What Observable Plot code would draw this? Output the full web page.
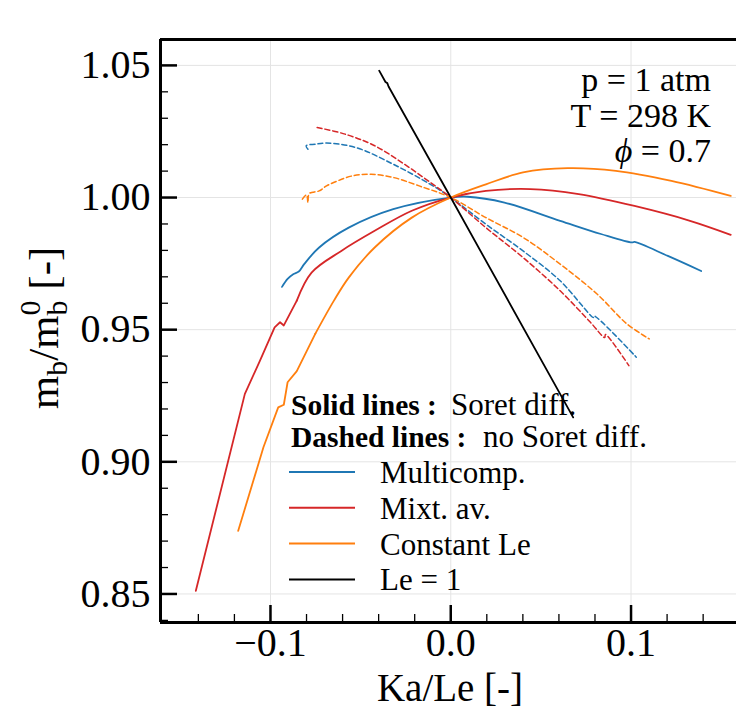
<!DOCTYPE html>
<html><head><meta charset="utf-8">
<script src="https://cdn.jsdelivr.net/npm/d3@7"></script>
<script src="https://cdn.jsdelivr.net/npm/@observablehq/plot@0.6"></script>
<style>body{margin:0;background:#fff}</style>
</head><body><div id="chart"></div>
<script>
// ---- data ----
const multiSolidX = [-0.0936,-0.0905,-0.0874,-0.0843,-0.0813,-0.0730,-0.0566,-0.0319,0,0.0093,0.0298,0.0607,0.0833,0.1005,0.1019,0.1204,0.1389];
const multiSolidY = [0.9662,0.9692,0.9710,0.9720,0.9748,0.9811,0.9886,0.9956,1,1.0003,0.9981,0.9912,0.9862,0.9830,0.9832,0.9779,0.9722];
const mixtSolidX = [-0.1414,-0.1142,-0.1060,-0.0977,-0.0947,-0.0926,-0.0854,-0.0772,-0.0607,-0.0422,-0.0216,0,0.0195,0.0442,0.0710,0.1019,0.1327,0.1553];
const mixtSolidY = [0.8512,0.9257,0.9380,0.9509,0.9528,0.9516,0.9610,0.9716,0.9798,0.9874,0.9950,1,1.0025,1.0032,1.0013,0.9968,0.9912,0.9859];
const constSolidX = [-0.1179,-0.1039,-0.0957,-0.0926,-0.0905,-0.0854,-0.0751,-0.0648,-0.0566,-0.0422,-0.0216,0,0.0195,0.0401,0.0648,0.0916,0.1224,0.1553];
const constSolidY = [0.8739,0.9055,0.9206,0.9216,0.9301,0.9343,0.9485,0.9610,0.9697,0.9811,0.9924,1,1.0050,1.0095,1.0111,1.0101,1.0063,1.0006];
const leOneX = [-0.0397,-0.0362,-0.0352,-0.0345,0,0.0679];
const leOneY = [1.0480,1.0437,1.0433,1.0420,1,0.9168];
const multiDashX = [-0.0792,-0.0802,-0.0751,-0.0689,-0.0525,-0.0319,-0.0113,0,0.0195,0.0401,0.0607,0.0792,0.0795,0.1029];
const multiDashY = [1.0183,1.0196,1.0202,1.0206,1.0189,1.0126,1.0050,1,0.9899,0.9798,0.9685,0.9546,0.9552,0.9396];
const mixtDashX = [-0.0741,-0.0586,-0.0422,-0.0257,-0.0113,0,0.0195,0.0401,0.0607,0.0772,0.0854,0.0858,0.0988];
const mixtDashY = [1.0265,1.0240,1.0196,1.0126,1.0057,1,0.9886,0.9773,0.9647,0.9530,0.9470,0.9482,0.9364];
const constDashX = [-0.0823,-0.0800,-0.0792,-0.0785,-0.0730,-0.0689,-0.0628,-0.0545,-0.0442,-0.0319,-0.0175,0,0.0195,0.0401,0.0607,0.0813,0.0977,0.1101];
const constDashY = [0.9994,1.0010,0.9981,1.0015,1.0025,1.0044,1.0063,1.0082,1.0088,1.0076,1.0044,1,0.9924,0.9849,0.9748,0.9634,0.9522,0.9465];

const xMajor = [-0.1, 0.0, 0.1];
const xMinor = [-0.14,-0.12,-0.08,-0.06,-0.04,-0.02,0.02,0.04,0.06,0.08,0.12,0.14];
const yMajor = [0.85, 0.90, 0.95, 1.00, 1.05];
const yMinor = [0.84,0.86,0.87,0.88,0.89,0.91,0.92,0.93,0.94,0.96,0.97,0.98,0.99,1.01,1.02,1.03,1.04];
const legendNames = ["Multicomp.", "Mixt. av.", "Constant Le", "Le = 1"];
const legendColors = ["#1f77b4", "#d62728", "#ff7f0e", "#000000"];
const conditions = ["p = 1 atm", "T = 298 K", "ϕ = 0.7"];

const BLUE = "#1f77b4", RED = "#d62728", ORANGE = "#ff7f0e";
const pts = (xs, ys) => xs.map((x, i) => ({x, y: ys[i]}));
const redPts = pts(mixtSolidX, mixtSolidY);
const orangePts = pts(constSolidX, constSolidY);

const W = 736, H = 712, ML = 160, MR = 0, MT = 39, MB = 90;
const PW = W - ML - MR, PH = H - MT - MB;
const xDom = [-0.161, 0.1585], yDom = [0.8392, 1.0598];

const smooth = {strokeWidth: 1.8, strokeLinejoin: "round", curve: "catmull-rom"};
const sharp = {strokeWidth: 1.8, strokeLinejoin: "round", curve: "linear"};
const dashed = {strokeWidth: 1.5, strokeDasharray: "5,3", curve: "catmull-rom"};

const svg = Plot.plot({
  width: W, height: H,
  marginLeft: ML, marginRight: MR, marginTop: MT, marginBottom: MB,
  style: {fontFamily: "'Liberation Serif', 'Times New Roman', serif", fontSize: "40px", background: "#fff", color: "#000"},
  x: {domain: xDom, ticks: xMajor, tickSize: 0, tickPadding: 5, tickFormat: d3.format(".1f"), label: null},
  y: {domain: yDom, ticks: yMajor, tickSize: 0, tickPadding: 10, tickFormat: d3.format(".2f"), label: null},
  marks: [
    Plot.ruleX(xMajor, {stroke: "#e4e4e4", strokeWidth: 1}),
    Plot.ruleY(yMajor, {stroke: "#e4e4e4", strokeWidth: 1}),
    Plot.line(pts(multiDashX, multiDashY), {x: "x", y: "y", stroke: BLUE, ...dashed}),
    Plot.line(pts(mixtDashX, mixtDashY), {x: "x", y: "y", stroke: RED, ...dashed}),
    Plot.line(pts(constDashX, constDashY), {x: "x", y: "y", stroke: ORANGE, ...dashed}),
    Plot.line(pts(multiSolidX, multiSolidY), {x: "x", y: "y", stroke: BLUE, ...smooth}),
    Plot.line(redPts.filter(d => d.x <= -0.0854), {x: "x", y: "y", stroke: RED, ...sharp}),
    Plot.line(redPts.filter(d => d.x >= -0.0854), {x: "x", y: "y", stroke: RED, ...smooth}),
    Plot.line(orangePts.filter(d => d.x <= -0.0751), {x: "x", y: "y", stroke: ORANGE, ...sharp}),
    Plot.line(orangePts.filter(d => d.x >= -0.0751), {x: "x", y: "y", stroke: ORANGE, ...smooth}),
    Plot.line(pts(leOneX, leOneY), {x: "x", y: "y", stroke: "#000", strokeWidth: 1.8}),
    // inward ticks
    Plot.ruleX(xMajor, {insetTop: PH - 17, stroke: "#000", strokeWidth: 2.5}),
    Plot.ruleX(xMinor, {insetTop: PH - 8, stroke: "#000", strokeWidth: 1.3}),
    Plot.ruleY(yMajor, {insetRight: PW - 17, stroke: "#000", strokeWidth: 2.5}),
    Plot.ruleY(yMinor, {insetRight: PW - 8, stroke: "#000", strokeWidth: 1.3}),
    // frame (left, top, bottom)
    Plot.ruleX([xDom[0]], {stroke: "#000", strokeWidth: 3}),
    Plot.ruleY([yDom[0]], {stroke: "#000", strokeWidth: 3}),
    Plot.ruleY([yDom[1]], {stroke: "#000", strokeWidth: 3})
  ]
});

const S = d3.select(svg);

// conditions (top right)
const cond = S.append("g").attr("font-size", 34).attr("text-anchor", "end").attr("fill", "#000");
cond.append("text").attr("x", 711).attr("y", 91).text(conditions[0]);
cond.append("text").attr("x", 711).attr("y", 127).text(conditions[1]);
const phi = cond.append("text").attr("x", 711).attr("y", 162);
phi.append("tspan").attr("font-style", "italic").text("ϕ");
phi.append("tspan").text(" = 0.7");

// axis labels
S.append("text").attr("x", 450).attr("y", 701).attr("text-anchor", "middle").attr("font-size", 39).attr("fill", "#000").text("Ka/Le [-]");
const yl = S.append("text").attr("transform", "translate(58,328) rotate(-90)").attr("text-anchor", "middle").attr("font-size", 43).attr("fill", "#000");
yl.append("tspan").text("m");
yl.append("tspan").attr("font-size", 30).attr("dy", 9).text("b");
yl.append("tspan").attr("dy", -9).text("/m");
yl.append("tspan").attr("font-size", 30).attr("dy", 9).text("b");
yl.append("tspan").attr("font-size", 30).attr("dx", -15).attr("dy", -27).text("0");
yl.append("tspan").attr("dy", 18).text(" [-]");

// legend
const lg = S.append("g").attr("fill", "#000").attr("font-size", 31).attr("text-anchor", "start");
const t1 = lg.append("text").attr("x", 291).attr("y", 415);
t1.append("tspan").attr("font-weight", "bold").attr("font-size", 29.5).text("Solid lines :");
t1.append("tspan").attr("x", 451).text("Soret diff.");
const t2 = lg.append("text").attr("x", 291).attr("y", 447);
t2.append("tspan").attr("font-weight", "bold").attr("font-size", 29.5).text("Dashed lines :");
t2.append("tspan").attr("x", 483).text("no Soret diff.");
legendNames.forEach((name, i) => {
  const yy = 472 + i * 35.8;
  lg.append("line").attr("x1", 289).attr("x2", 355).attr("y1", yy).attr("y2", yy)
    .attr("stroke", legendColors[i]).attr("stroke-width", 2);
  lg.append("text").attr("x", 380).attr("y", yy + 11).text(name);
});

document.getElementById("chart").appendChild(svg);
</script>
</body></html>
